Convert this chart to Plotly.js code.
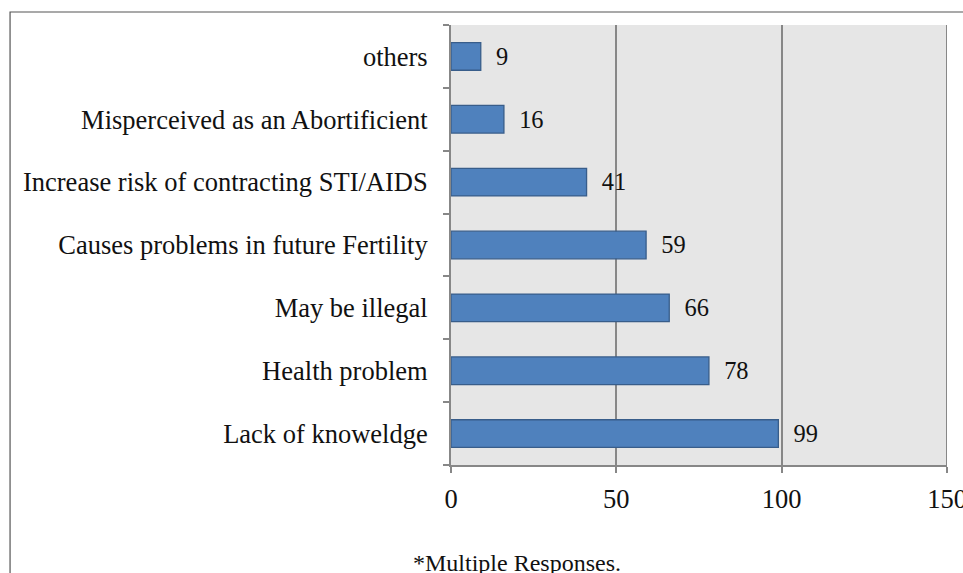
<!DOCTYPE html>
<html><head><meta charset="utf-8">
<script src="https://cdn.plot.ly/plotly-3.0.1.min.js"></script>
<style>html,body{margin:0;padding:0;background:#fff;}</style>
</head><body><div id="chart" style="width:963px;height:573px;"></div>
<script>
const categories = ["Lack of knoweldge","Health problem","May be illegal","Causes problems in future Fertility","Increase risk of contracting STI/AIDS","Misperceived as an Abortificient","others"];
const values = [99, 78, 66, 59, 41, 16, 9];
const xTicks = [0, 50, 100, 150];
const footnote = "*Multiple Responses.";

const font = "Liberation Serif, Times New Roman, serif";
const trace = {
  type: "bar", orientation: "h",
  x: values, y: categories,
  marker: {color: "#4F81BD", line: {color: "#385D8A", width: 1.3}},
  text: values.map(v => "\u2002" + v), textposition: "outside",
  textfont: {family: font, size: 26.5, color: "#111"},
  cliponaxis: false, hoverinfo: "none"
};
const layout = {
  width: 963, height: 573,
  margin: {l: 451, r: 16, t: 25, b: 108},
  paper_bgcolor: "#fff", plot_bgcolor: "#E6E6E6",
  bargap: 0.56, showlegend: false,
  font: {family: font, size: 26.5, color: "#111"},
  xaxis: {range: [0, 150], tickvals: xTicks, ticktext: xTicks.map(String),
    showgrid: true, gridcolor: "#878787", gridwidth: 2,
    showline: true, linecolor: "#878787", linewidth: 2,
    ticks: "outside", ticklen: 6, tickwidth: 2, tickcolor: "#878787",
    ticklabeloverflow: "allow", ticklabelstandoff: 3,
    tickfont: {family: font, size: 26.5, color: "#111"}, zeroline: false, fixedrange: true},
  yaxis: {type: "category", tickson: "boundaries", ticks: "outside", ticklen: 6, tickwidth: 2,
    tickcolor: "#878787", showline: true, linecolor: "#878787", linewidth: 2,
    showgrid: false, ticklabelstandoff: 16,
    tickfont: {family: font, size: 26.5, color: "#111"}, fixedrange: true},
  shapes: [
    {type: "path", xref: "paper", yref: "paper",
     path: "M -0.889 -0.3 L -0.889 1.0295 L 1.1 1.0295",
     line: {color: "#555", width: 1.2}},
    {type: "line", xref: "x", yref: "paper", x0: xTicks[xTicks.length-1], x1: xTicks[xTicks.length-1], y0: 0, y1: 1,
     line: {color: "#878787", width: 2}}
  ],
  annotations: [{text: footnote, xref: "paper", yref: "paper", x: 0.134, y: -0.2227, yanchor: "middle", xanchor: "center",
    showarrow: false, font: {family: font, size: 24, color: "#111"}}]
};
Plotly.newPlot("chart", [trace], layout, {displayModeBar: false, staticPlot: true});
</script></body></html>
